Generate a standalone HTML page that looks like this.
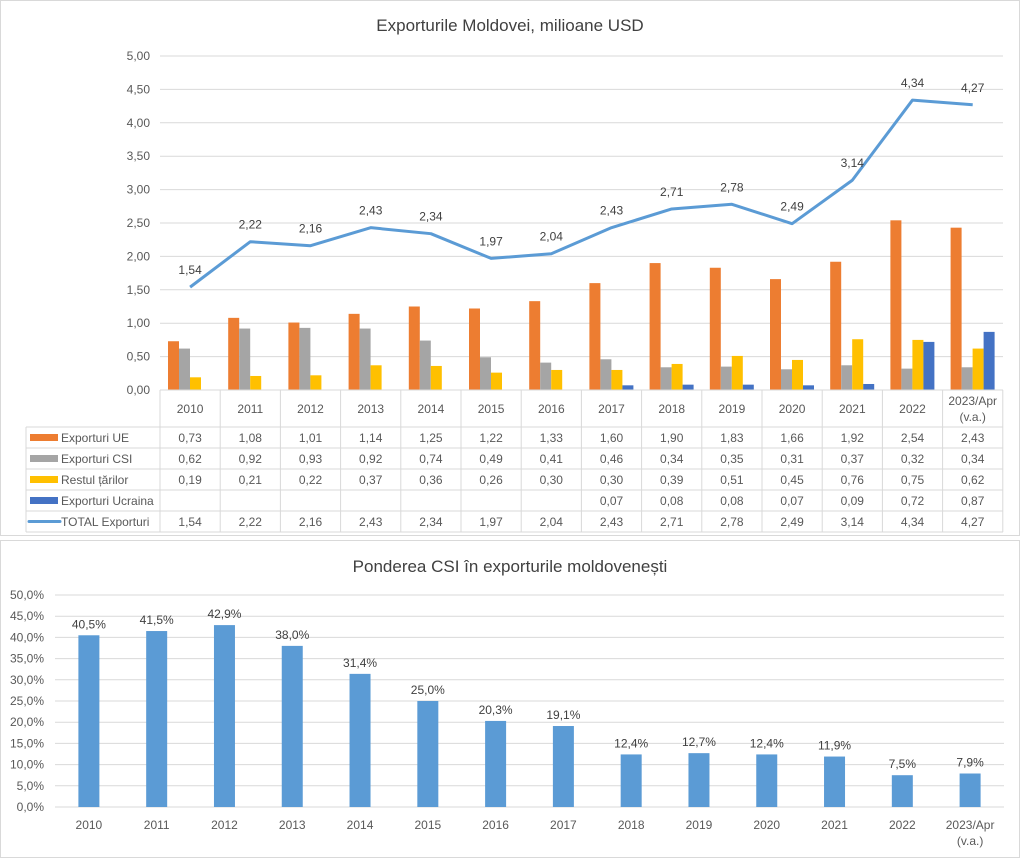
<!DOCTYPE html>
<html><head><meta charset="utf-8"><style>
html,body{margin:0;padding:0;background:#fff;}
svg{display:block;font-family:"Liberation Sans",sans-serif;}
</style></head><body>
<svg id="s" width="1023" height="859" xmlns="http://www.w3.org/2000/svg"></svg>
<script>
const s=document.getElementById('s');let h='';
h+='<rect x="0.5" y="0.5" width="1019" height="535" fill="#fff" stroke="#d9d9d9"/>';
h+='<rect x="0.5" y="540.5" width="1019" height="317" fill="#fff" stroke="#d9d9d9"/>';
h+='<text x="510" y="31" font-size="17" fill="#404040" text-anchor="middle">Exporturile Moldovei, milioane USD</text>';
const yrs=['2010','2011','2012','2013','2014','2015','2016','2017','2018','2019','2020','2021','2022','2023/Apr'];
const ue=[.73,1.08,1.01,1.14,1.25,1.22,1.33,1.60,1.90,1.83,1.66,1.92,2.54,2.43];
const csi=[.62,.92,.93,.92,.74,.49,.41,.46,.34,.35,.31,.37,.32,.34];
const rest=[.19,.21,.22,.37,.36,.26,.30,.30,.39,.51,.45,.76,.75,.62];
const ukr=[null,null,null,null,null,null,null,.07,.08,.08,.07,.09,.72,.87];
const tot=[1.54,2.22,2.16,2.43,2.34,1.97,2.04,2.43,2.71,2.78,2.49,3.14,4.34,4.27];
const f=v=>v==null?'':v.toFixed(2).replace('.',',');
const X0=160,CW=60.2,Y0=390,K=66.8;
for(let i=0;i<=10;i++){const y=Y0-i*0.5*K;
 if(i>0)h+=`<line x1="${X0}" x2="1003" y1="${y}" y2="${y}" stroke="#d9d9d9"/>`;
 h+=`<text x="150" y="${y+4}" font-size="12" fill="#595959" text-anchor="end">${f(i*0.5)}</text>`;}
const cols=['#ed7d31','#a5a5a5','#ffc000','#4472c4'];
[ue,csi,rest,ukr].forEach((arr,k)=>{arr.forEach((v,i)=>{if(v==null)return;const x=X0+i*CW+8+k*11;h+=`<rect x="${x}" y="${Y0-v*K}" width="11" height="${v*K}" fill="${cols[k]}"/>`;});});
let pts=tot.map((v,i)=>`${X0+i*CW+CW/2},${Y0-v*K}`).join(' ');
h+=`<polyline points="${pts}" fill="none" stroke="#5b9bd5" stroke-width="3" stroke-linejoin="round"/>`;
tot.forEach((v,i)=>{h+=`<text x="${X0+i*CW+CW/2}" y="${Y0-v*K-13}" font-size="12" fill="#404040" text-anchor="middle">${f(v)}</text>`;});
// table
const rows=[390,427,448,469,490,511,532];
h+=`<g stroke="#d9d9d9" fill="none">`;
h+=`<line x1="${X0}" x2="1003" y1="390" y2="390"/>`;
for(let r=1;r<rows.length;r++)h+=`<line x1="26" x2="1003" y1="${rows[r]}" y2="${rows[r]}"/>`;
h+=`<line x1="26" x2="26" y1="427" y2="532"/>`;
for(let i=0;i<=14;i++)h+=`<line x1="${X0+i*CW}" x2="${X0+i*CW}" y1="390" y2="532"/>`;
h+='</g>';
yrs.forEach((y,i)=>{const cx=X0+i*CW+CW/2;
 if(i<13)h+=`<text x="${cx}" y="413" font-size="12" fill="#595959" text-anchor="middle">${y}</text>`;
 else{h+=`<text x="${cx}" y="405" font-size="12" fill="#595959" text-anchor="middle">2023/Apr</text><text x="${cx}" y="421" font-size="12" fill="#595959" text-anchor="middle">(v.a.)</text>`;}});
const names=['Exporturi UE','Exporturi CSI','Restul țărilor','Exporturi Ucraina','TOTAL Exporturi'];
const data=[ue,csi,rest,ukr,tot];
names.forEach((n,r)=>{const y=rows[r+1]+15;
 if(r<4)h+=`<rect x="30" y="${rows[r+1]+7}" width="28" height="7" fill="${cols[r]}"/>`;
 else h+=`<line x1="29" x2="60" y1="${rows[r+1]+10.5}" y2="${rows[r+1]+10.5}" stroke="#5b9bd5" stroke-width="3" stroke-linecap="round"/>`;
 h+=`<text x="61" y="${y}" font-size="12" fill="#595959">${n}</text>`;
 data[r].forEach((v,i)=>{h+=`<text x="${X0+i*CW+CW/2}" y="${y}" font-size="12" fill="#595959" text-anchor="middle">${f(v)}</text>`;});});
// bottom chart
h+='<text x="510" y="572" font-size="17" fill="#404040" text-anchor="middle">Ponderea CSI în exporturile moldovenești</text>';
const p=[40.5,41.5,42.9,38.0,31.4,25.0,20.3,19.1,12.4,12.7,12.4,11.9,7.5,7.9];
const B0=807,BK=(807-595)/50,BX=55,BW=(1004-55)/14;
for(let i=0;i<=10;i++){const y=B0-i*5*BK;
 h+=`<line x1="${BX}" x2="1004" y1="${y}" y2="${y}" stroke="#d9d9d9"/>`;
 h+=`<text x="44" y="${y+4}" font-size="12" fill="#595959" text-anchor="end">${(i*5).toFixed(1).replace('.',',')}%</text>`;}
p.forEach((v,i)=>{const cx=BX+i*BW+BW/2;
 h+=`<rect x="${cx-10.5}" y="${B0-v*BK}" width="21" height="${v*BK}" fill="#5b9bd5"/>`;
 h+=`<text x="${cx}" y="${B0-v*BK-7}" font-size="12" fill="#404040" text-anchor="middle">${v.toFixed(1).replace('.',',')}%</text>`;
 if(i<13)h+=`<text x="${cx}" y="829" font-size="12" fill="#595959" text-anchor="middle">${yrs[i]}</text>`;
 else h+=`<text x="${cx}" y="829" font-size="12" fill="#595959" text-anchor="middle">2023/Apr</text><text x="${cx}" y="845" font-size="12" fill="#595959" text-anchor="middle">(v.a.)</text>`;});
s.innerHTML=h;
</script>
</body></html>
